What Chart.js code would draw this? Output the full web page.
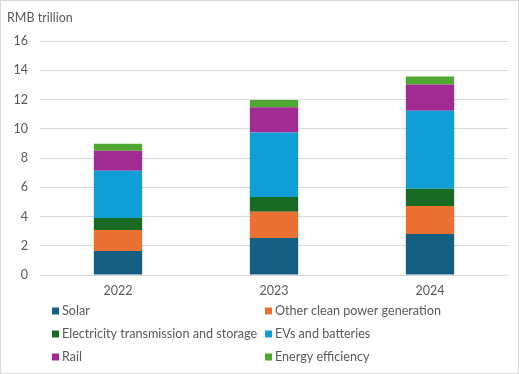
<!DOCTYPE html>
<html>
<head>
<meta charset="utf-8">
<script src="https://cdn.jsdelivr.net/npm/chart.js@4"></script>
<style>
  html, body { margin: 0; padding: 0; background: #fff; }
  #wrap { width: 519px; height: 374px; box-sizing: border-box; border: 1px solid #d9d9d9; position: relative; }
</style>
</head>
<body>
<div id="wrap"><canvas id="investChart" width="517" height="372"></canvas></div>
<script>
// Clean energy investment by sector, RMB trillion
const years = ["2022", "2023", "2024"];
const solar = [1.64, 2.53, 2.81];
const otherClean = [1.44, 1.79, 1.90];
const gridStorage = [0.82, 1.01, 1.19];
const evBatteries = [3.22, 4.41, 5.33];
const rail = [1.37, 1.73, 1.80];
const efficiency = [0.48, 0.50, 0.55];
const yTicks = [0, 2, 4, 6, 8, 10, 12, 14, 16];

const series = [
    { label: "Solar", data: solar, color: "#156082" },
    { label: "Other clean power generation", data: otherClean, color: "#e97132" },
    { label: "Electricity transmission and storage", data: gridStorage, color: "#196b24" },
    { label: "EVs and batteries", data: evBatteries, color: "#0f9ed5" },
    { label: "Rail", data: rail, color: "#a02b93" },
    { label: "Energy efficiency", data: efficiency, color: "#4ea72e" }
];

const fontFamily = "Lato, 'Open Sans', sans-serif";
const textColor = "#595959";

// two-column legend under the plot
const gridLegend = {
    id: "gridLegend",
    afterDraw(chart) {
        const ctx = chart.ctx;
        const colX = [51, 264];
        const rowY = [310, 333, 356];
        ctx.save();
        ctx.font = "12.6px " + fontFamily;
        ctx.textBaseline = "middle";
        chart.data.datasets.forEach((ds, i) => {
            const x = colX[i % 2];
            const y = rowY[Math.floor(i / 2)];
            ctx.fillStyle = ds.backgroundColor;
            ctx.fillRect(x, y - 3.5, 7, 7);
            ctx.fillStyle = textColor;
            ctx.fillText(ds.label, x + 10, y);
        });
        ctx.restore();
    }
};

new Chart(document.getElementById("investChart").getContext("2d"), {
    type: "bar",
    data: {
        labels: years,
        datasets: series.map(s => ({
            label: s.label,
            data: s.data,
            backgroundColor: s.color,
            borderWidth: 0,
            categoryPercentage: 1,
            barPercentage: 0.31
        }))
    },
    options: {
        responsive: false,
        animation: false,
        layout: { padding: { left: 6, right: 10, top: 7, bottom: 67 } },
        plugins: {
            legend: { display: false },
            tooltip: { enabled: false },
            title: {
                display: true,
                text: "RMB trillion",
                align: "start",
                color: textColor,
                font: { family: fontFamily, size: 12.5, weight: "normal" },
                padding: { top: 2, bottom: 16 }
            }
        },
        scales: {
            x: {
                stacked: true,
                grid: { display: false, drawTicks: false },
                border: { display: false },
                ticks: { color: textColor, font: { family: fontFamily, size: 12.5 }, padding: 8 }
            },
            y: {
                stacked: true,
                min: 0,
                max: 16,
                afterBuildTicks: axis => { axis.ticks = yTicks.map(v => ({ value: v })); },
                afterFit: axis => { axis.width = 33; },
                grid: { color: "#d9d9d9", lineWidth: 1, drawTicks: false },
                border: { display: false },
                ticks: { color: textColor, font: { family: fontFamily, size: 12.5 }, padding: 12 }
            }
        }
    },
    plugins: [gridLegend]
});
</script>
</body>
</html>
